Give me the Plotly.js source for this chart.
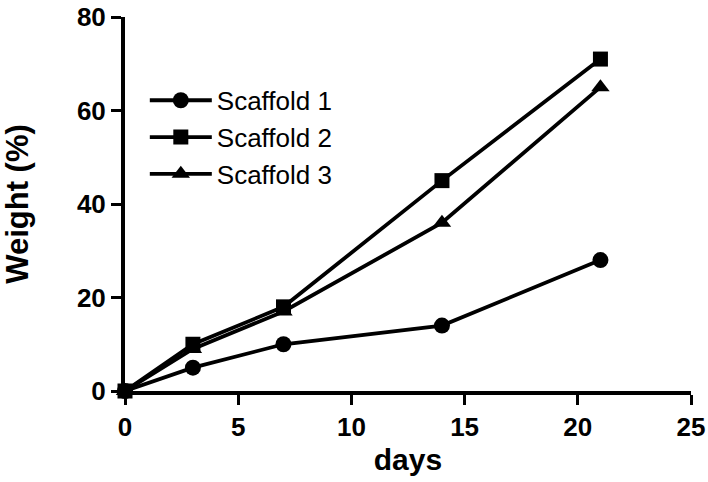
<!DOCTYPE html>
<html>
<head>
<meta charset="utf-8">
<script src="https://cdn.plot.ly/plotly-3.0.1.min.js"></script>
<style>html,body{margin:0;padding:0;background:#fff;}#chart{width:708px;height:482px;}</style>
</head>
<body>
<div id="chart"></div>
<script>
const days = [0, 3, 7, 14, 21];
const scaffold1 = [0, 5, 10, 14, 28];
const scaffold2 = [0, 10, 18, 45, 71];
const scaffold3 = [0, 9, 17, 36, 65];
const seriesNames = ["Scaffold 1", "Scaffold 2", "Scaffold 3"];
const xTicks = [0, 5, 10, 15, 20, 25];
const yTicks = [0, 20, 40, 60, 80];

const FONT = "Liberation Sans, Arial, Helvetica, sans-serif";
function tr(y, name, sym, size) {
  return {
    x: days, y: y, name: name, type: "scatter", mode: "lines+markers",
    line: {color: "#000", width: 3.8},
    marker: {symbol: sym, size: size, color: "#000"},
    cliponaxis: false
  };
}
const data = [
  tr(scaffold1, seriesNames[0], "circle", 16),
  tr(scaffold2, seriesNames[1], "square", 15),
  tr(scaffold3, seriesNames[2], "triangle-up", 16)
];
const layout = {
  width: 708, height: 482,
  margin: {l: 125, r: 17, t: 17, b: 91},
  paper_bgcolor: "#fff", plot_bgcolor: "#fff",
  showlegend: true,
  legend: {
    x: 0.035, y: 0.84, xanchor: "left", yanchor: "top",
    font: {family: FONT, size: 26, color: "#000"},
    bgcolor: "rgba(0,0,0,0)", tracegroupgap: 0, itemwidth: 62
  },
  xaxis: {
    range: [0, 25], tickvals: xTicks, ticktext: xTicks.map(String),
    showline: true, linewidth: 4, linecolor: "#000",
    ticks: "outside", ticklen: 10, tickwidth: 3, tickcolor: "#000",
    showgrid: false, zeroline: false, ticklabeloverflow: "allow",
    tickfont: {family: FONT, size: 26, color: "#000", weight: "bold"},
    title: {text: "days", font: {family: FONT, size: 30, color: "#000", weight: "bold"}, standoff: 9}
  },
  yaxis: {
    range: [0, 80], tickvals: yTicks, ticktext: yTicks.map(String),
    showline: true, linewidth: 4, linecolor: "#000",
    ticks: "outside", ticklen: 10, tickwidth: 3, tickcolor: "#000",
    showgrid: false, zeroline: false, ticklabeloverflow: "allow",
    tickfont: {family: FONT, size: 26, color: "#000", weight: "bold"},
    title: {text: "Weight (%)", font: {family: FONT, size: 31, color: "#000", weight: "bold"}, standoff: 43}
  }
};
Plotly.newPlot("chart", data, layout, {displayModeBar: false, staticPlot: true});
</script>
</body>
</html>
